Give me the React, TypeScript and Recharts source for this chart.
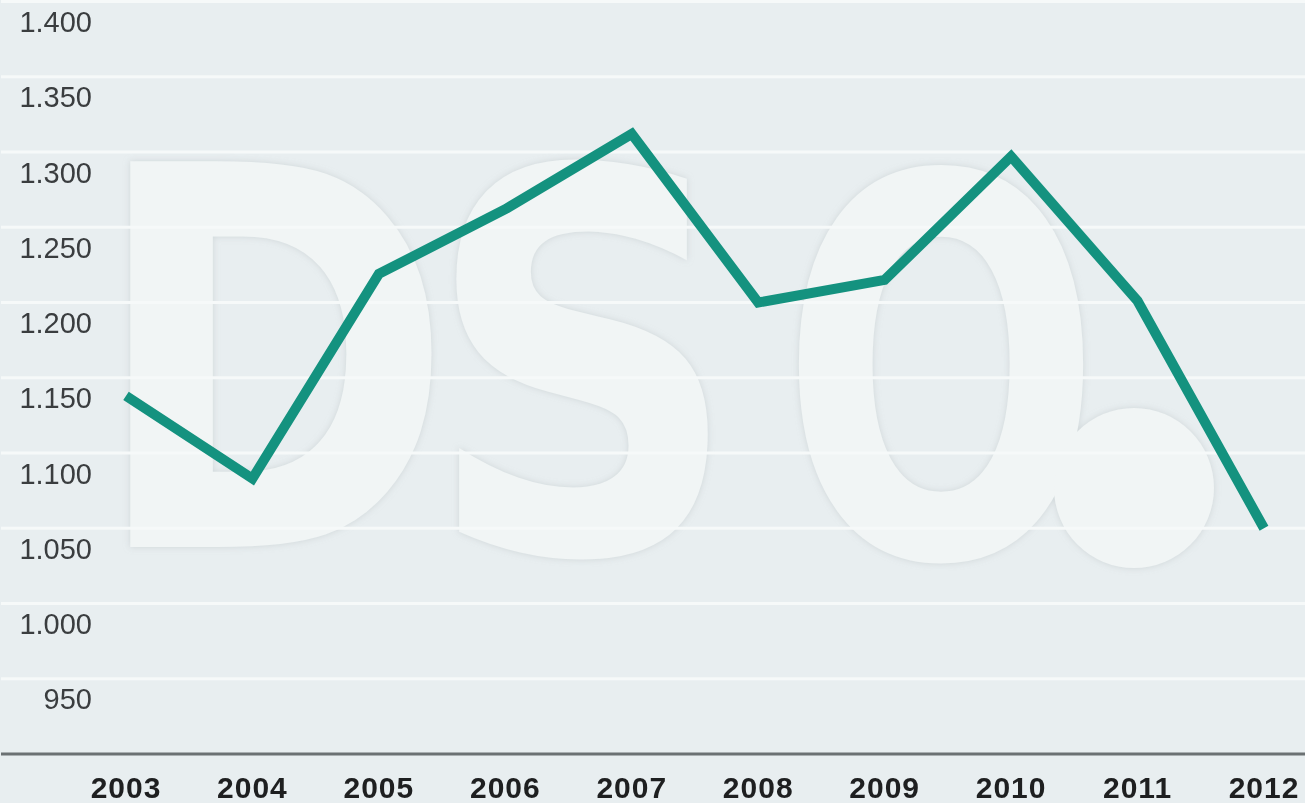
import { LineChart, Line, XAxis, YAxis, ReferenceLine } from "recharts";

const years = ["2003", "2004", "2005", "2006", "2007", "2008", "2009", "2010", "2011", "2012"];
const values = [1151, 1096, 1232, 1275, 1325, 1213, 1228, 1310, 1214, 1063];
const yTicks = [950, 1000, 1050, 1100, 1150, 1200, 1250, 1300, 1350, 1400];
const gridLines = [963, 1013, 1063, 1113, 1163, 1213, 1263, 1313, 1363, 1413];

const data = years.map((year, i) => ({ year, value: values[i] }));

const fmt = (v: number) => v.toLocaleString("de-DE");

const YTick = ({ y, payload }: any) => (
  <text
    x={92}
    y={y}
    dy={11}
    textAnchor="end"
    fontSize={29}
    fontFamily="'Liberation Sans', Arial, sans-serif"
    fill="#3a3d3f"
  >
    {fmt(payload.value)}
  </text>
);

const XTick = ({ x, y, payload }: any) => (
  <text
    x={x}
    y={y}
    dy={44}
    textAnchor="middle"
    fontSize={30}
    fontWeight="bold"
    letterSpacing={1}
    fontFamily="'Liberation Sans', Arial, sans-serif"
    fill="#1e1f20"
  >
    {payload.value}
  </text>
);

// faint logo behind the plot
const Watermark = () => (
  <svg width={1305} height={803} style={{ position: "absolute", top: 0, left: 0 }}>
    <defs>
      <filter id="soft" x="-10%" y="-10%" width="120%" height="120%">
        <feDropShadow dx="0" dy="0" stdDeviation="3" floodColor="#c3cbce" floodOpacity="0.7" />
      </filter>
    </defs>
    <g
      fill="#f1f5f5"
      fontFamily="'DejaVu Sans', sans-serif"
      fontWeight="bold"
      filter="url(#soft)"
    >
      <text transform="translate(90 547) scale(1.12 1.35)" fontSize={392}>D</text>
      <text transform="translate(425 552) scale(1 1.21)" fontSize={437}>S</text>
      <text transform="translate(780 556) scale(1 1.39)" fontSize={379}>O</text>
      <circle cx={1134} cy={488} r={80} />
    </g>
  </svg>
);

export default function App() {
  return (
    <div
      style={{
        position: "absolute",
        top: 0,
        left: 0,
        width: 1305,
        height: 803,
        background: "#e8eef0",
        overflow: "hidden",
      }}
    >
      <Watermark />
      <div style={{ position: "absolute", top: 0, left: 0 }}>
        <LineChart width={1305} height={803} data={data} margin={{ top: 0, right: 0, bottom: 0, left: 0 }}>
          {gridLines.map((g) => (
            <ReferenceLine key={g} y={g} stroke="#f6f9f9" strokeWidth={3} />
          ))}
          <XAxis
            dataKey="year"
            height={49}
            padding={{ left: 125, right: 41 }}
            axisLine={{ stroke: "#6b7173", strokeWidth: 3 }}
            tickLine={false}
            tickSize={0}
            tickMargin={0}
            tick={<XTick />}
            interval={0}
          />
          <YAxis
            width={1}
            domain={[913, 1414]}
            ticks={yTicks}
            axisLine={false}
            tickLine={false}
            tick={<YTick />}
            interval={0}
          />
          <Line
            type="linear"
            dataKey="value"
            stroke="#14927f"
            strokeWidth={10}
            strokeLinejoin="miter"
            dot={false}
            activeDot={false}
            isAnimationActive={false}
          />
        </LineChart>
      </div>
    </div>
  );
}
